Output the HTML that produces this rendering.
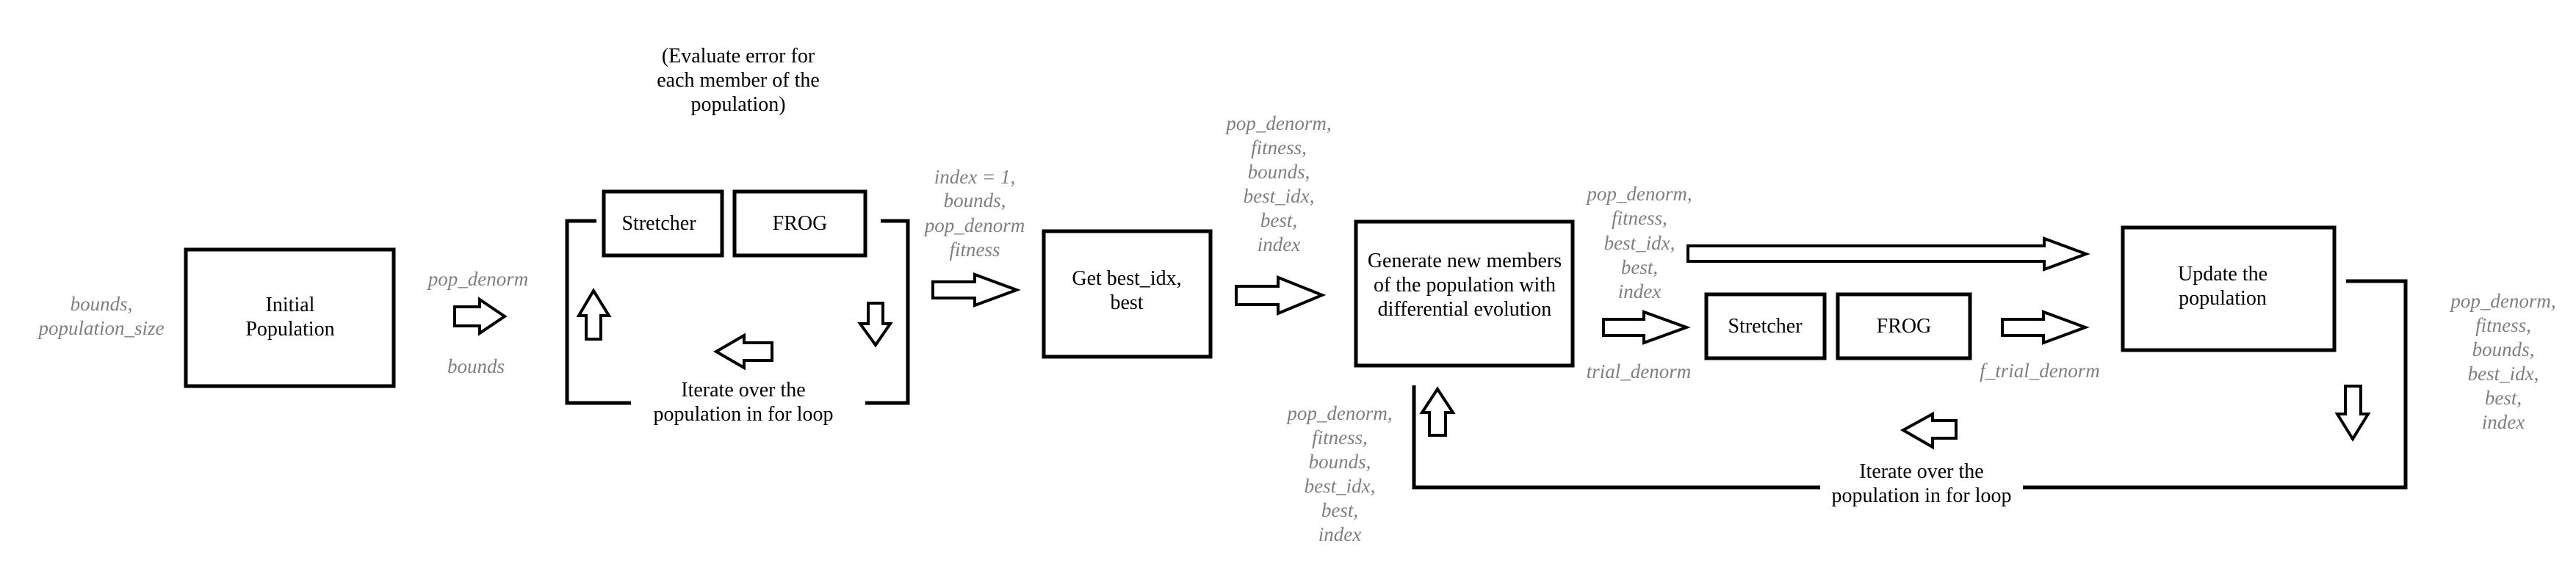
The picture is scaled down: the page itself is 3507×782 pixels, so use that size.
<!DOCTYPE html>
<html><head><meta charset="utf-8"><style>
html,body{margin:0;padding:0;background:#fff;}
svg{display:block;}
.b{font-size:28px;fill:#000;font-family:"Liberation Serif","DejaVu Serif",serif;}
.g{font-size:27px;fill:#7f7f7f;font-style:italic;font-family:"Liberation Serif","DejaVu Serif",serif;}
</style></head><body>
<svg width="3507" height="782" viewBox="0 0 3507 782" xmlns="http://www.w3.org/2000/svg">
<g fill="none" stroke="#000" stroke-width="5">
<rect x="253" y="340" width="283" height="186"/>
<rect x="822" y="261" width="161" height="87"/>
<rect x="1000" y="261" width="178" height="87"/>
<polyline points="812,301 772,301 772,549 859,549"/>
<polyline points="1199,301 1236,301 1236,549 1178,549"/>
<rect x="1421" y="315" width="227" height="171"/>
<rect x="1846" y="302" width="295" height="196"/>
<rect x="2323" y="401" width="161" height="87"/>
<rect x="2502" y="401" width="180" height="87"/>
<rect x="2890" y="310" width="288" height="167"/>
<polyline points="1925,525 1925,664 2478,664"/>
<polyline points="2754,664 3275,664 3275,383 3194,383"/>
</g>
<g fill="#fff" stroke="#000" stroke-width="4" stroke-linejoin="miter">
<polygon points="619,418 653,418 653,408 687,431 653,454 653,444 619,444"/>
<polygon points="1270,384 1327,384 1327,374 1384,395 1327,416 1327,406 1270,406"/>
<polygon points="1683,390 1740,390 1740,378 1800,402 1740,427 1740,415 1683,415"/>
<polygon points="2298,335 2783,335 2783,325 2840,346 2783,367 2783,356 2298,356"/>
<polygon points="2183,435 2238,435 2238,425 2296,446 2238,467 2238,457 2183,457"/>
<polygon points="2726,435 2782,435 2782,425 2839,446 2782,467 2782,457 2726,457"/>
<polygon points="798,462 798,430 788,430 808,396 829,430 818,430 818,462"/>
<polygon points="1946,593 1946,562 1936,562 1957,530 1978,562 1968,562 1968,593"/>
<polygon points="1182,413 1202,413 1202,441 1212,441 1192,470 1171,441 1182,441"/>
<polygon points="3193,526 3214,526 3214,564 3224,564 3203,598 3182,564 3193,564"/>
<polygon points="1051,467 1013,467 1013,457 975,479 1013,501 1013,491 1051,491"/>
<polygon points="2663,573 2631,573 2631,564 2591,586 2631,609 2631,597 2663,597"/>
</g>
<g class="b" text-anchor="middle" font-family="Liberation Serif, serif">
<text x="395" y="424">Initial</text><text x="395" y="457">Population</text>
<text x="1005" y="85">(Evaluate error for</text><text x="1005" y="118">each member of the</text><text x="1005" y="151">population)</text>
<text x="897" y="313">Stretcher</text><text x="1089" y="313">FROG</text>
<text x="1012" y="540">Iterate over the</text><text x="1012" y="573">population in for loop</text>
<text x="1534" y="388">Get best_idx,</text><text x="1534" y="421">best</text>
<text x="1994" y="364">Generate new members</text><text x="1994" y="397">of the population with</text><text x="1994" y="430">differential evolution</text>
<text x="2403" y="453">Stretcher</text><text x="2592" y="453">FROG</text>
<text x="3026" y="382">Update the</text><text x="3026" y="415">population</text>
<text x="2616" y="651">Iterate over the</text><text x="2616" y="684">population in for loop</text>
</g>
<g class="g" text-anchor="middle" font-family="Liberation Serif, serif" font-style="italic">
<text x="138" y="423">bounds,</text><text x="138" y="456">population_size</text>
<text x="651" y="389">pop_denorm</text><text x="648" y="508">bounds</text>
<text x="1327" y="250">index = 1,</text><text x="1327" y="282">bounds,</text><text x="1327" y="316">pop_denorm</text><text x="1327" y="349">fitness</text>
<text x="1741" y="177">pop_denorm,</text><text x="1741" y="210">fitness,</text><text x="1741" y="243">bounds,</text><text x="1741" y="276">best_idx,</text><text x="1741" y="309">best,</text><text x="1741" y="342">index</text>
<text x="2232" y="273">pop_denorm,</text><text x="2232" y="306">fitness,</text><text x="2232" y="340">best_idx,</text><text x="2232" y="373">best,</text><text x="2232" y="406">index</text>
<text x="2231" y="515">trial_denorm</text>
<text x="2777" y="514">f_trial_denorm</text>
<text x="1824" y="572">pop_denorm,</text><text x="1824" y="605">fitness,</text><text x="1824" y="638">bounds,</text><text x="1824" y="671">best_idx,</text><text x="1824" y="704">best,</text><text x="1824" y="737">index</text>
<text x="3408" y="419">pop_denorm,</text><text x="3408" y="452">fitness,</text><text x="3408" y="485">bounds,</text><text x="3408" y="518">best_idx,</text><text x="3408" y="551">best,</text><text x="3408" y="584">index</text>
</g>
</svg>
</body></html>
